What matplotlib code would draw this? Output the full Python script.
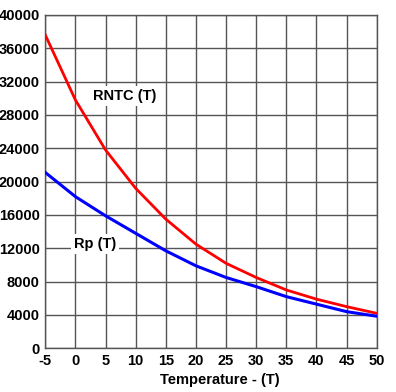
import matplotlib
matplotlib.use("Agg")
from matplotlib import pyplot as plt

temp = [-5, 0, 5, 10, 15, 20, 25, 30, 35, 40, 45, 50]
rntc = [37600, 29800, 23800, 19200, 15500, 12500, 10200, 8500, 7000, 5900, 5000, 4200]
rp = [21100, 18200, 15900, 13800, 11700, 9900, 8500, 7400, 6200, 5300, 4400, 3850]

x_ticks = list(range(-5, 51, 5))
y_ticks = list(range(0, 40001, 4000))

plt.rcParams['font.family'] = ['Liberation Sans', 'DejaVu Sans']
plt.rcParams['font.weight'] = 'bold'
plt.rcParams['axes.unicode_minus'] = False

fig = plt.figure(figsize=(3.96, 3.92), dpi=100)
ax = fig.add_axes([45.3 / 396, 1 - 348.3 / 392, (376.7 - 45.3) / 396, (348.3 - 15) / 392])

ax.plot(temp, rntc, color='#ff0000', linewidth=2, zorder=3)
ax.plot(temp, rp, color='#0000ff', linewidth=2.2, zorder=3)

ax.set_xlim(-5, 50)
ax.set_ylim(0, 40000)
ax.set_xticks(x_ticks)
ax.set_yticks(y_ticks)
ax.tick_params(length=0, labelsize=10.5, pad=4)
for lbl in ax.get_xticklabels() + ax.get_yticklabels():
    lbl.set_fontweight('bold')

ax.grid(True, color='#555555', linewidth=1)
for s in ax.spines.values():
    s.set_color('#555555')
    s.set_linewidth(1)

ax.set_xlabel("Temperature - (T)", fontsize=10.5, fontweight='bold')
ax.xaxis.set_label_coords(0.527, -0.075)

ax.text(8.2, 30300, "RNTC (T)", fontsize=10.5, fontweight='bold', ha='center', va='center',
        bbox=dict(facecolor='white', edgecolor='none', pad=2), zorder=4)
ax.text(3.3, 12500, "Rp (T)", fontsize=10.5, fontweight='bold', ha='center', va='center',
        bbox=dict(facecolor='white', edgecolor='none', pad=2), zorder=4)

fig.savefig("out.png", dpi=100)
